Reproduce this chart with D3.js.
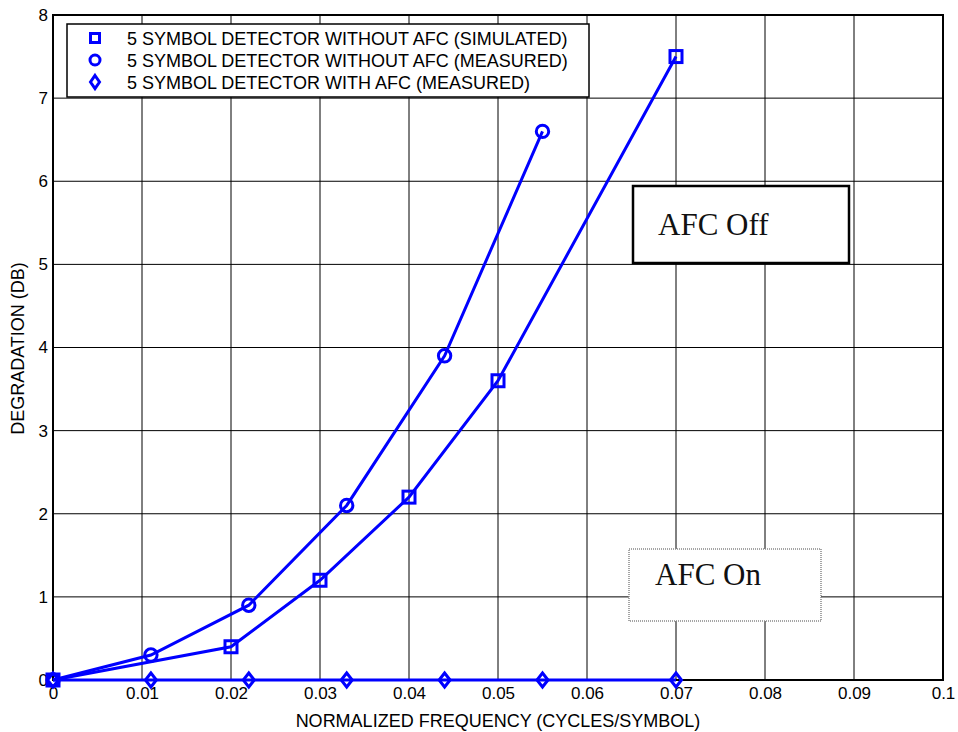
<!DOCTYPE html>
<html>
<head>
<meta charset="utf-8">
<script src="https://cdn.jsdelivr.net/npm/d3@7"></script>
<style>
  body { margin: 0; background: #fff; }
  svg text { font-family: "Liberation Sans", Arial, sans-serif; }
  svg text.serif { font-family: "Liberation Serif", "Times New Roman", serif; }
</style>
</head>
<body>
<div id="chart"></div>
<script>
// Data
const simFreq = [0, 0.02, 0.03, 0.04, 0.05, 0.07];
const simDeg  = [0, 0.4, 1.2, 2.2, 3.6, 7.5];
const measFreq = [0, 0.011, 0.022, 0.033, 0.044, 0.055];
const measDeg  = [0, 0.3, 0.9, 2.1, 3.9, 6.6];
const afcFreq = [0, 0.011, 0.022, 0.033, 0.044, 0.055, 0.07];
const afcDeg  = [0, 0, 0, 0, 0, 0, 0];
const xTicks = [0, 0.01, 0.02, 0.03, 0.04, 0.05, 0.06, 0.07, 0.08, 0.09, 0.1];
const xTickLabels = ["0", "0.01", "0.02", "0.03", "0.04", "0.05", "0.06", "0.07", "0.08", "0.09", "0.1"];
const yTicks = [0, 1, 2, 3, 4, 5, 6, 7, 8];
const legendLabels = [
  "5 SYMBOL DETECTOR WITHOUT AFC (SIMULATED)",
  "5 SYMBOL DETECTOR WITHOUT AFC (MEASURED)",
  "5 SYMBOL DETECTOR WITH AFC (MEASURED)"
];
const markerKinds = ["square", "circle", "diamond"];

const W = 958, H = 732;
const margin = {left: 53, right: 15, top: 15, bottom: 52};
const blue = "#0000ff";

const svg = d3.select("#chart").append("svg")
  .attr("width", W).attr("height", H);

const x = d3.scaleLinear().domain([0, 0.1]).range([margin.left, W - margin.right]);
const y = d3.scaleLinear().domain([0, 8]).range([H - margin.bottom, margin.top]);

// grid
const grid = svg.append("g");
grid.selectAll("line.gx").data(xTicks).enter().append("line")
  .attr("x1", d => x(d)).attr("x2", d => x(d))
  .attr("y1", y(0)).attr("y2", y(8))
  .attr("stroke", "#000").attr("stroke-width", 1);
grid.selectAll("line.gy").data(yTicks).enter().append("line")
  .attr("y1", d => y(d)).attr("y2", d => y(d))
  .attr("x1", x(0)).attr("x2", x(0.1))
  .attr("stroke", "#000").attr("stroke-width", 1);

// frame
svg.append("rect")
  .attr("x", x(0)).attr("y", y(8))
  .attr("width", x(0.1) - x(0)).attr("height", y(0) - y(8))
  .attr("fill", "none").attr("stroke", "#000").attr("stroke-width", 2);

// axes
const xAxis = svg.append("g")
  .attr("transform", `translate(0,${y(0)})`)
  .call(d3.axisBottom(x).tickValues(xTicks).tickSize(0).tickPadding(7)
    .tickFormat((d, i) => xTickLabels[i]));
const yAxis = svg.append("g")
  .attr("transform", `translate(${x(0)},0)`)
  .call(d3.axisLeft(y).tickValues(yTicks).tickSize(0).tickPadding(5));
[xAxis, yAxis].forEach(a => {
  a.select(".domain").remove();
  a.selectAll("text").attr("font-size", 17).attr("fill", "#000")
    .attr("font-family", null);
});

svg.append("text")
  .attr("x", (x(0) + x(0.1)) / 2).attr("y", 727)
  .attr("text-anchor", "middle").attr("font-size", 18)
  .text("NORMALIZED FREQUENCY (CYCLES/SYMBOL)");
svg.append("text")
  .attr("transform", `translate(24,${(y(0) + y(8)) / 2 + 1}) rotate(-90)`)
  .attr("text-anchor", "middle").attr("font-size", 18)
  .text("DEGRADATION (DB)");

// series
const line = d3.line().x(d => x(d[0])).y(d => y(d[1]));
const series = [
  d3.zip(simFreq, simDeg),
  d3.zip(measFreq, measDeg),
  d3.zip(afcFreq, afcDeg)
];

function drawMarker(g, kind, cx, cy) {
  if (kind === "square") {
    g.append("rect").attr("x", cx - 6).attr("y", cy - 6)
      .attr("width", 12).attr("height", 12);
  } else if (kind === "circle") {
    g.append("circle").attr("cx", cx).attr("cy", cy).attr("r", 6.2);
  } else {
    g.append("path").attr("d", `M${cx},${cy - 7}L${cx + 5.5},${cy}L${cx},${cy + 7}L${cx - 5.5},${cy}Z`);
  }
}

series.forEach((s, i) => {
  svg.append("path").datum(s).attr("d", line)
    .attr("fill", "none").attr("stroke", blue).attr("stroke-width", 3);
  const g = svg.append("g").attr("fill", "none").attr("stroke", blue).attr("stroke-width", 3);
  s.forEach(p => drawMarker(g, markerKinds[i], x(p[0]), y(p[1])));
});

// legend
const lg = svg.append("g");
lg.append("rect").attr("x", 67).attr("y", 24).attr("width", 522).attr("height", 73)
  .attr("fill", "#fff").attr("stroke", "#000").attr("stroke-width", 1.5);
legendLabels.forEach((t, i) => {
  const cy = 38 + i * 22;
  const g = lg.append("g").attr("fill", "none").attr("stroke", blue).attr("stroke-width", 3);
  const kind = markerKinds[i];
  if (kind === "square") {
    g.append("rect").attr("x", 95 - 4.5).attr("y", cy - 4.5).attr("width", 9).attr("height", 9);
  } else if (kind === "circle") {
    g.append("circle").attr("cx", 95).attr("cy", cy).attr("r", 5);
  } else {
    g.append("path").attr("d", `M95,${cy - 6.5}L99.5,${cy}L95,${cy + 6.5}L90.5,${cy}Z`);
  }
  lg.append("text").attr("x", 127).attr("y", cy + 6.5)
    .attr("font-size", 18).attr("fill", "#000").text(t);
});

// annotation boxes
svg.append("rect").attr("x", 633).attr("y", 186).attr("width", 216).attr("height", 77)
  .attr("fill", "#fff").attr("stroke", "#000").attr("stroke-width", 2.5);
svg.append("text").attr("class", "serif").attr("x", 658).attr("y", 235)
  .attr("font-size", 31).attr("fill", "#111").text("AFC Off");

svg.append("rect").attr("x", 629).attr("y", 549).attr("width", 192).attr("height", 72)
  .attr("fill", "#fff").attr("stroke", "#888").attr("stroke-width", 1.5)
  .attr("stroke-dasharray", "1,1");
svg.append("text").attr("class", "serif").attr("x", 655).attr("y", 585)
  .attr("font-size", 31).attr("fill", "#111").text("AFC On");
</script>
</body>
</html>
